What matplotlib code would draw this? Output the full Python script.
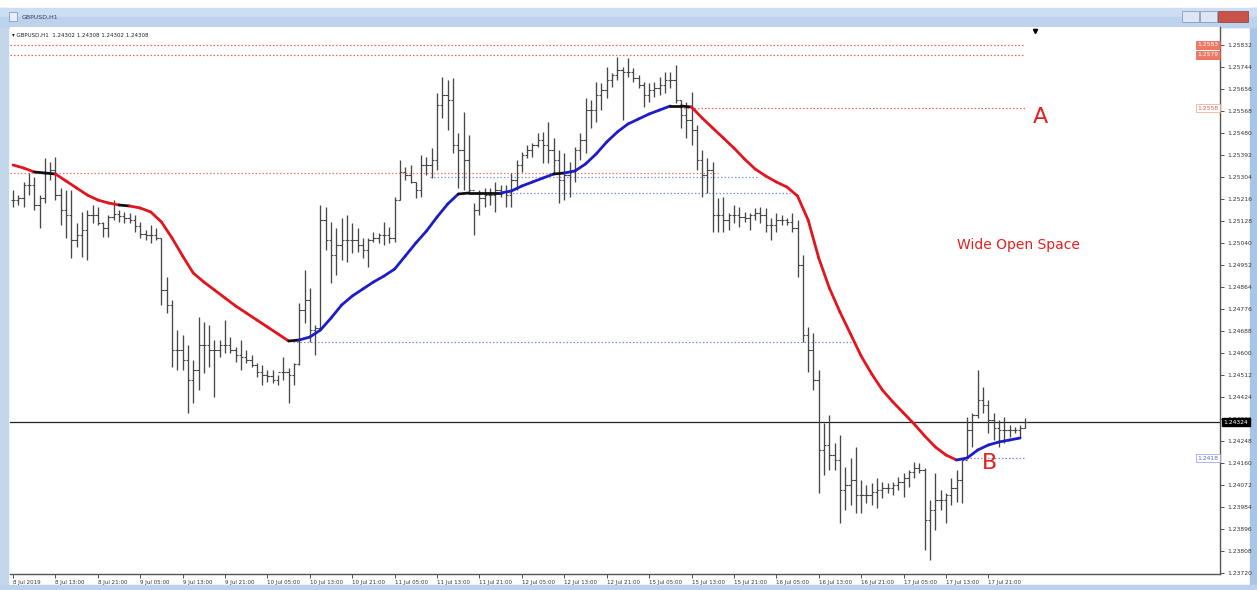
import matplotlib
matplotlib.use("Agg")
import matplotlib.pyplot as plt
import matplotlib.transforms as mtransforms
from matplotlib.collections import LineCollection
from matplotlib.patches import Rectangle
import numpy as np

# GBPUSD H1 bars
highs = [
    1.25252, 1.25232, 1.25284, 1.25320, 1.25304, 1.25232, 1.25380, 1.25364, 1.25384, 1.25260,
    1.25252, 1.25252, 1.25120, 1.25164, 1.25172, 1.25192, 1.25184, 1.25124, 1.25152, 1.25212,
    1.25172, 1.25164, 1.25160, 1.25152, 1.25124, 1.25092, 1.25112, 1.25100, 1.25060, 1.24904,
    1.24812, 1.24692, 1.24672, 1.24632, 1.24572, 1.24744, 1.24724, 1.24712, 1.24652, 1.24652,
    1.24732, 1.24664, 1.24624, 1.24652, 1.24612, 1.24592, 1.24560, 1.24552, 1.24532, 1.24532,
    1.24512, 1.24584, 1.24540, 1.24560, 1.24800, 1.24932, 1.24860, 1.24712, 1.25192, 1.25184,
    1.25124, 1.25100, 1.25140, 1.25152, 1.25120, 1.25100, 1.25060, 1.25060, 1.25084, 1.25080,
    1.25124, 1.25104, 1.25224, 1.25372, 1.25344, 1.25352, 1.25284, 1.25392, 1.25384, 1.25420,
    1.25640, 1.25704, 1.25692, 1.25700, 1.25480, 1.25564, 1.25472, 1.25200, 1.25252, 1.25260,
    1.25260, 1.25284, 1.25272, 1.25272, 1.25320, 1.25372, 1.25404, 1.25432, 1.25440, 1.25480,
    1.25484, 1.25524, 1.25460, 1.25412, 1.25400, 1.25364, 1.25424, 1.25480, 1.25620, 1.25612,
    1.25684, 1.25680, 1.25744, 1.25720, 1.25784, 1.25744, 1.25780, 1.25740, 1.25712, 1.25684,
    1.25680, 1.25684, 1.25704, 1.25724, 1.25724, 1.25752, 1.25612, 1.25604, 1.25644, 1.25512,
    1.25412, 1.25380, 1.25364, 1.25220, 1.25224, 1.25160, 1.25192, 1.25184, 1.25164, 1.25160,
    1.25180, 1.25184, 1.25180, 1.25140, 1.25160, 1.25152, 1.25140, 1.25160, 1.25132, 1.24992,
    1.24704, 1.24680, 1.24532, 1.24320, 1.24352, 1.24240, 1.24272, 1.24144, 1.24180, 1.24224,
    1.24092, 1.24072, 1.24080, 1.24100, 1.24084, 1.24080, 1.24084, 1.24104, 1.24120, 1.24132,
    1.24164, 1.24160, 1.24140, 1.24012, 1.24120, 1.24052, 1.24040, 1.24100, 1.24132, 1.24172,
    1.24344, 1.24360, 1.24532, 1.24464, 1.24412, 1.24360, 1.24332, 1.24344, 1.24312, 1.24304,
    1.24312, 1.24340,
]
lows = [
    1.25184, 1.25192, 1.25184, 1.25232, 1.25172, 1.25100, 1.25200, 1.25292, 1.25212, 1.25112,
    1.25060, 1.24980, 1.25024, 1.24984, 1.24972, 1.25120, 1.25112, 1.25064, 1.25064, 1.25132,
    1.25124, 1.25120, 1.25120, 1.25084, 1.25060, 1.25052, 1.25040, 1.25052, 1.24792, 1.24760,
    1.24544, 1.24532, 1.24532, 1.24360, 1.24400, 1.24452, 1.24520, 1.24544, 1.24424, 1.24584,
    1.24600, 1.24600, 1.24564, 1.24532, 1.24560, 1.24544, 1.24504, 1.24472, 1.24484, 1.24480,
    1.24472, 1.24492, 1.24400, 1.24472, 1.24552, 1.24720, 1.24644, 1.24592, 1.24692, 1.25012,
    1.24880, 1.24912, 1.24972, 1.24964, 1.25000, 1.25004, 1.24980, 1.24944, 1.25044, 1.25040,
    1.25032, 1.25040, 1.25044, 1.25212, 1.25292, 1.25280, 1.25220, 1.25224, 1.25312, 1.25300,
    1.25332, 1.25540, 1.25492, 1.25400, 1.25260, 1.25252, 1.25244, 1.25072, 1.25152, 1.25184,
    1.25192, 1.25164, 1.25224, 1.25184, 1.25184, 1.25252, 1.25324, 1.25380, 1.25384, 1.25424,
    1.25360, 1.25360, 1.25320, 1.25200, 1.25212, 1.25224, 1.25284, 1.25372, 1.25400, 1.25500,
    1.25524, 1.25572, 1.25620, 1.25664, 1.25692, 1.25532, 1.25704, 1.25684, 1.25660, 1.25584,
    1.25604, 1.25624, 1.25632, 1.25640, 1.25660, 1.25600, 1.25500, 1.25460, 1.25432, 1.25332,
    1.25224, 1.25240, 1.25084, 1.25084, 1.25084, 1.25092, 1.25120, 1.25104, 1.25124, 1.25092,
    1.25132, 1.25120, 1.25084, 1.25052, 1.25084, 1.25112, 1.25112, 1.25084, 1.24904, 1.24644,
    1.24524, 1.24452, 1.24040, 1.24112, 1.24132, 1.24132, 1.23920, 1.23972, 1.23992, 1.23960,
    1.23960, 1.24000, 1.23992, 1.23980, 1.24020, 1.24040, 1.24032, 1.24052, 1.24024, 1.24064,
    1.24100, 1.24120, 1.23812, 1.23772, 1.23892, 1.23972, 1.23920, 1.23992, 1.24004, 1.24000,
    1.24184, 1.24224, 1.24340, 1.24360, 1.24280, 1.24252, 1.24224, 1.24240, 1.24264, 1.24280,
    1.24264, 1.24300,
]
closes = [
    1.25212, 1.25220, 1.25272, 1.25272, 1.25192, 1.25220, 1.25324, 1.25332, 1.25232, 1.25172,
    1.25152, 1.25052, 1.25072, 1.25092, 1.25152, 1.25152, 1.25120, 1.25100, 1.25144, 1.25156,
    1.25148, 1.25140, 1.25132, 1.25108, 1.25076, 1.25072, 1.25072, 1.25060, 1.24852, 1.24792,
    1.24612, 1.24612, 1.24572, 1.24492, 1.24532, 1.24632, 1.24632, 1.24612, 1.24612, 1.24632,
    1.24632, 1.24612, 1.24592, 1.24584, 1.24572, 1.24552, 1.24524, 1.24512, 1.24508, 1.24492,
    1.24524, 1.24524, 1.24512, 1.24556, 1.24772, 1.24812, 1.24692, 1.24700, 1.25132, 1.25052,
    1.24992, 1.25032, 1.25052, 1.25052, 1.25052, 1.25032, 1.25012, 1.25052, 1.25060, 1.25072,
    1.25072, 1.25060, 1.25212, 1.25324, 1.25312, 1.25284, 1.25252, 1.25352, 1.25352, 1.25372,
    1.25592, 1.25632, 1.25612, 1.25432, 1.25412, 1.25372, 1.25252, 1.25172, 1.25220, 1.25232,
    1.25232, 1.25252, 1.25244, 1.25232, 1.25292, 1.25352, 1.25392, 1.25412, 1.25432, 1.25452,
    1.25432, 1.25412, 1.25372, 1.25292, 1.25312, 1.25332, 1.25412, 1.25452, 1.25572, 1.25572,
    1.25632, 1.25652, 1.25692, 1.25712, 1.25732, 1.25724, 1.25724, 1.25700, 1.25672, 1.25632,
    1.25652, 1.25660, 1.25672, 1.25692, 1.25692, 1.25612, 1.25552, 1.25532, 1.25492, 1.25372,
    1.25312, 1.25332, 1.25152, 1.25152, 1.25132, 1.25152, 1.25152, 1.25144, 1.25140, 1.25152,
    1.25160, 1.25152, 1.25112, 1.25112, 1.25132, 1.25132, 1.25124, 1.25100, 1.24952, 1.24672,
    1.24612, 1.24492, 1.24212, 1.24232, 1.24192, 1.24172, 1.24052, 1.24072, 1.24092, 1.24032,
    1.24032, 1.24032, 1.24044, 1.24052, 1.24060, 1.24060, 1.24072, 1.24084, 1.24100, 1.24124,
    1.24140, 1.24132, 1.23932, 1.23972, 1.24012, 1.24012, 1.24032, 1.24060, 1.24092, 1.24172,
    1.24292, 1.24352, 1.24412, 1.24392, 1.24332, 1.24300, 1.24292, 1.24292, 1.24292, 1.24292,
    1.24300, 1.24324,
]

# colour-changing moving average, sampled every 2 bars
ma_bars = list(range(0, 191, 2))
ma_values = [
    1.25352, 1.25340, 1.25324, 1.25320, 1.25316, 1.25288, 1.25260, 1.25232, 1.25212, 1.25200,
    1.25192, 1.25188, 1.25180, 1.25164, 1.25124, 1.25060, 1.24988, 1.24920, 1.24884, 1.24852,
    1.24820, 1.24788, 1.24760, 1.24732, 1.24704, 1.24676, 1.24648, 1.24652, 1.24664, 1.24692,
    1.24740, 1.24792, 1.24828, 1.24856, 1.24884, 1.24908, 1.24936, 1.24988, 1.25040, 1.25088,
    1.25144, 1.25196, 1.25236, 1.25240, 1.25240, 1.25240, 1.25240, 1.25248, 1.25268, 1.25284,
    1.25300, 1.25316, 1.25320, 1.25328, 1.25356, 1.25396, 1.25444, 1.25484, 1.25516, 1.25536,
    1.25556, 1.25572, 1.25588, 1.25588, 1.25584, 1.25540, 1.25500, 1.25460, 1.25420, 1.25376,
    1.25336, 1.25308, 1.25284, 1.25264, 1.25228, 1.25132, 1.24980, 1.24860, 1.24764, 1.24676,
    1.24588, 1.24516, 1.24452, 1.24404, 1.24360, 1.24316, 1.24268, 1.24224, 1.24192, 1.24172,
    1.24180, 1.24212, 1.24232, 1.24244, 1.24252, 1.24260,
]

# drawn horizontal levels: price, first bar, last bar, colour
level_prices = [1.25832, 1.25792, 1.25580, 1.25320, 1.25304, 1.25240, 1.24644, 1.24180]
level_start = [-0.6, -0.6, 125.8, -0.6, 78.7, 84.3, 52.8, 179.2]
level_end = [191.0, 191.0, 191.0, 133.0, 140.4, 146.6, 159.2, 191.0]
level_colors = ["#ec6a5e", "#ec6a5e", "#ec6a5e", "#ec7a6e", "#8f97d8", "#7f8ad8", "#7f8ad8", "#7f8ad8"]

time_labels = [
    "8 Jul 2019", "8 Jul 13:00", "8 Jul 21:00", "9 Jul 05:00", "9 Jul 13:00", "9 Jul 21:00",
    "10 Jul 05:00", "10 Jul 13:00", "10 Jul 21:00", "11 Jul 05:00", "11 Jul 13:00", "11 Jul 21:00",
    "12 Jul 05:00", "12 Jul 13:00", "12 Jul 21:00", "15 Jul 05:00", "15 Jul 13:00", "15 Jul 21:00",
    "16 Jul 05:00", "16 Jul 13:00", "16 Jul 21:00", "17 Jul 05:00", "17 Jul 13:00", "17 Jul 21:00",
]

W, H = 1257, 590
fig = plt.figure(figsize=(W / 100, H / 100), dpi=100)
fig.patch.set_facecolor("white")

# window frame drawn in pixel coordinates
frame = fig.add_axes([0, 0, 1, 1])
frame.set_xlim(0, W)
frame.set_ylim(H, 0)
frame.axis("off")
frame.add_patch(Rectangle((0, 8), 8, H - 8, color="#c4d6ec"))
frame.add_patch(Rectangle((1250, 8), 7, H - 8, color="#a9c4e4"))
frame.add_patch(Rectangle((0, 585), W, 5, color="#bcd2ec"))
frame.add_patch(Rectangle((0, 8), W, 19, color="#cddef2"))
frame.add_patch(Rectangle((0, 17), W, 10, color="#bdd2ec"))
frame.add_patch(Rectangle((9, 12), 8, 9, color="#e8eef8", ec="#7a90b0", lw=0.5))
frame.text(22, 17, "GBPUSD,H1", fontsize=4.5, color="#304060", va="center")
frame.add_patch(Rectangle((1182, 11), 17, 11, color="#dce6f4", ec="#7c8fae", lw=0.5))
frame.add_patch(Rectangle((1200, 11), 17, 11, color="#dce6f4", ec="#7c8fae", lw=0.5))
frame.add_patch(Rectangle((1218, 11), 30, 11, color="#c9534a", ec="#8a3a34", lw=0.5))

ax = fig.add_axes([10 / W, 1 - 574 / H, 1210 / W, 547 / H])
ax.set_facecolor("white")
ax.set_xlim(-0.57, 227.7)
ax.set_ylim(1.23716, 1.25904)

x = np.arange(len(highs))
opens = [closes[0]] + closes[:-1]
bar_color = "#474747"
ax.vlines(x, lows, highs, color=bar_color, lw=0.95, zorder=3)
ax.hlines(opens, x - 0.45, x, color=bar_color, lw=0.8, zorder=3)
ax.hlines(closes, x, x + 0.45, color=bar_color, lw=0.8, zorder=3)

# levels
for p, a, b, c in zip(level_prices, level_start, level_end, level_colors):
    ax.hlines(p, a, b, color=c, lw=0.9, linestyles=(0, (1.2, 1.6)), zorder=1)

# current price line
ax.axhline(closes[-1], color="#222222", lw=0.9, zorder=2)

# moving average coloured by direction
pts = np.column_stack([ma_bars, ma_values])
segs = np.stack([pts[:-1], pts[1:]], axis=1)
diffs = np.diff(ma_values)
seg_colors = []
for d in diffs:
    if abs(d) <= 0.00005:
        seg_colors.append("#111111")
    elif d > 0:
        seg_colors.append("#1c1cc8")
    else:
        seg_colors.append("#e3141e")
ax.add_collection(LineCollection(segs, colors=seg_colors, linewidths=2.0, zorder=4,
                                 capstyle="round", joinstyle="round"))

# annotations
ax.text(193.8, 1.25544, "A", color="#e42020", fontsize=16, ha="center", va="center")
ax.text(189.6, 1.25032, "Wide Open Space", color="#e42020", fontsize=10, ha="center", va="center")
ax.text(184.3, 1.24160, "B", color="#e42020", fontsize=16, ha="center", va="center")
ax.text(0.002, 0.985, "\u25be GBPUSD,H1  1.24302 1.24308 1.24302 1.24308", transform=ax.transAxes,
        fontsize=4, color="#202020", va="center")
ax.plot([0.847], [0.992], marker="v", color="black", ms=3, transform=ax.transAxes, clip_on=False)

# axes styling
for s in ["top", "left"]:
    ax.spines[s].set_visible(False)
ax.spines["right"].set_color("#555555")
ax.spines["bottom"].set_color("#555555")
ax.spines["right"].set_linewidth(1.0)
ax.spines["bottom"].set_linewidth(1.0)

yt = 1.25832 - 0.00088 * np.arange(25)
ax.yaxis.tick_right()
ax.set_yticks(yt)
ax.set_yticklabels([f"{v:.5f}" for v in yt])
ax.tick_params(axis="y", length=3, width=0.6, pad=2, labelsize=4.3, colors="#333333")

ax.set_xticks(np.arange(len(time_labels)) * 8)
ax.set_xticklabels(time_labels, ha="left")
ax.tick_params(axis="x", length=3, width=0.6, pad=1.5, labelsize=4.0, colors="#333333")

# price boxes on the right
trans = mtransforms.blended_transform_factory(ax.transAxes, ax.transData)
ax.text(0.9985, level_prices[0], "1.2583", transform=trans, ha="right", va="center", fontsize=4.3,
        color="white", bbox=dict(boxstyle="square,pad=0.25", fc="#ee7a66", ec="#e05a4a", lw=0.5))
ax.text(0.9985, level_prices[1], "1.2579", transform=trans, ha="right", va="center", fontsize=4.3,
        color="white", bbox=dict(boxstyle="square,pad=0.25", fc="#ee7a66", ec="#e05a4a", lw=0.5))
ax.text(0.9985, level_prices[2], "1.2558", transform=trans, ha="right", va="center", fontsize=4.3,
        color="#e05a4a", bbox=dict(boxstyle="square,pad=0.25", fc="white", ec="#f0a090", lw=0.5))
ax.text(0.9985, level_prices[7], "1.2418", transform=trans, ha="right", va="center", fontsize=4.3,
        color="#5a6ad0", bbox=dict(boxstyle="square,pad=0.25", fc="white", ec="#8f9ae0", lw=0.5))
ax.text(1.003, closes[-1], f"{closes[-1]:.5f}", transform=trans, ha="left", va="center",
        fontsize=4.3, color="white", bbox=dict(boxstyle="square,pad=0.3", fc="black", ec="black"))

fig.savefig("out.png", dpi=100, facecolor=fig.get_facecolor())
